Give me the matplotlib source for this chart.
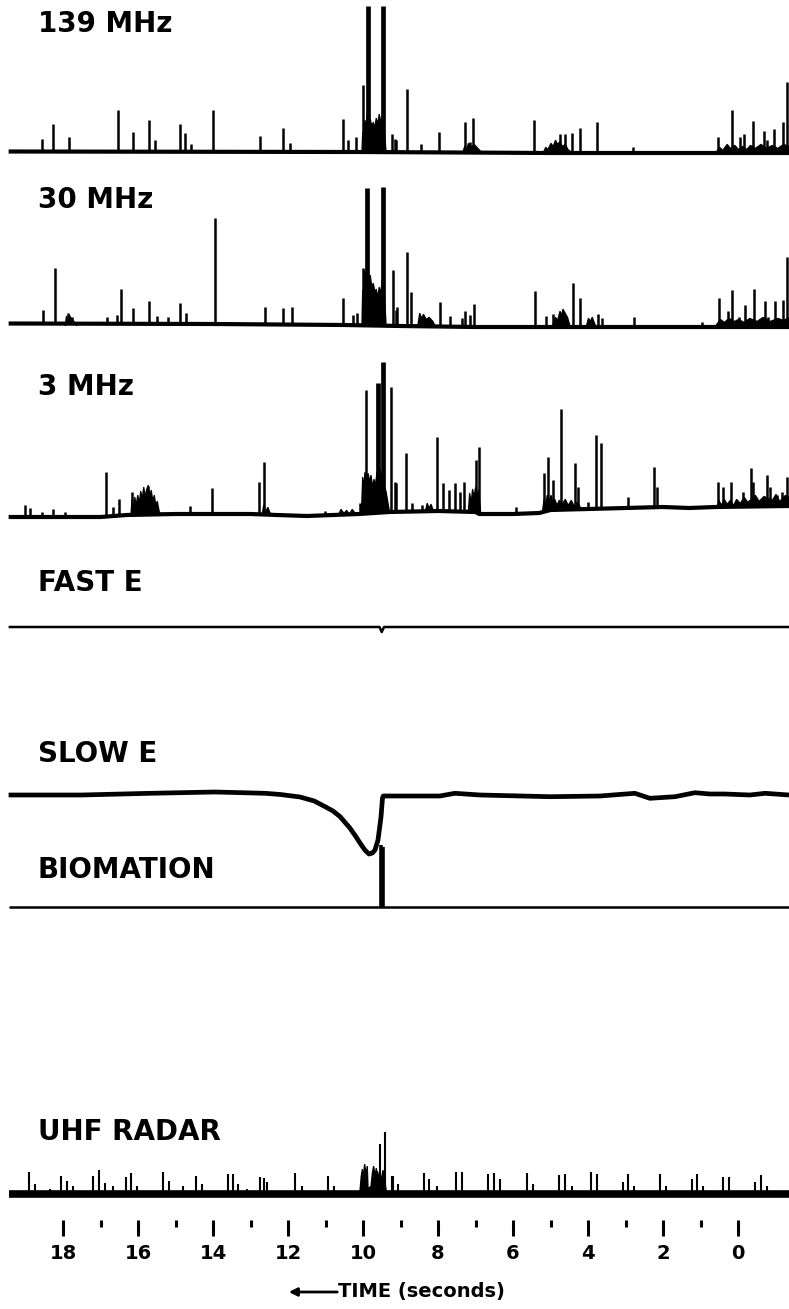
import numpy as np
import matplotlib
matplotlib.use("Agg")
import matplotlib.pyplot as plt

plt.rcParams['font.family'] = ['DejaVu Sans']

W, H = 789, 1309
T_LEFT, T_RIGHT = 19.68, -1.36

########## data (time in s, amplitude in trace units) ##########

# 139 MHz
vhf139_base_t = [19.45, 10.0, 5.0, -1.36]
vhf139_base_v = [0.5, 0, -1, -1]
vhf139_spike_t = [18.56, 18.27, 17.84, 16.53, 16.13, 15.71, 15.55, 14.88, 14.75, 14.59,
                  14.00, 12.75, 12.13, 11.95, 10.53, 10.40, 10.19, 10.00, 9.87, 9.47,
                  9.23, 9.15, 9.12, 8.83, 8.45, 7.97, 7.28, 7.15, 7.07, 5.44,
                  4.75, 4.61, 4.43, 4.21, 3.76, 2.80, 0.53, 0.16, -0.05, -0.16,
                  -0.40, -0.69, -0.77, -0.96, -1.20, -1.31]
vhf139_spike_v = [13, 28, 15, 42, 20, 32, 12, 28, 19, 8,
                  42, 16, 24, 9, 33, 12, 15, 67, 146, 146,
                  18, 13, 12, 63, 8, 20, 30, 10, 34, 32,
                  18, 18, 19, 24, 30, 5, 15, 42, 15, 18,
                  31, 21, 12, 23, 30, 70]
vhf139_bursts = [
    [(10.04, 0), (10.02, 20), (9.99, 10), (9.96, 32), (9.93, 25), (9.90, 38),
     (9.86, 28), (9.82, 33), (9.78, 26), (9.74, 30), (9.70, 24), (9.66, 34),
     (9.62, 28), (9.58, 38), (9.54, 30), (9.50, 36), (9.46, 22), (9.42, 10), (9.40, 0)],
    [(7.35, 0), (7.30, 6), (7.25, 3), (7.20, 9), (7.12, 5), (7.05, 8), (6.95, 4), (6.85, 0)],
    [(5.20, 0), (5.14, 5), (5.08, 3), (5.00, 9), (4.94, 6), (4.88, 12), (4.82, 8),
     (4.76, 11), (4.70, 6), (4.62, 8), (4.55, 3), (4.45, 0)],
    [(0.60, 0), (0.50, 5), (0.42, 2), (0.30, 8), (0.22, 4), (0.10, 7), (0.00, 3),
     (-0.10, 6), (-0.22, 3), (-0.32, 7), (-0.45, 4), (-0.60, 8), (-0.75, 4),
     (-0.90, 7), (-1.05, 4), (-1.20, 8), (-1.36, 6)],
]

# 30 MHz
vhf30_base_t = [19.45, 14.0, 10.5, 9.0, 7.0, 4.0, 1.0, -1.36]
vhf30_base_v = [1.5, 1, 0, -1, -2, -2, -2, -2]
vhf30_spike_t = [18.53, 18.21, 17.87, 17.76, 16.83, 16.56, 16.45, 16.13, 15.71, 15.49,
                 15.20, 14.88, 14.72, 13.95, 12.61, 12.13, 11.89, 10.53, 10.27, 10.16,
                 10.00, 9.89, 9.47, 9.21, 9.12, 9.09, 8.83, 8.72, 7.95, 7.68,
                 7.36, 7.28, 7.15, 7.04, 5.41, 5.12, 4.93, 4.40, 4.21, 3.73,
                 3.63, 2.77, 0.96, 0.51, 0.27, 0.16, -0.03, -0.19, -0.43, -0.72,
                 -0.80, -0.99, -1.20, -1.31]
vhf30_spike_v = [15, 57, 12, 8, 8, 10, 36, 17, 24, 9,
                 8, 22, 12, 107, 18, 17, 18, 27, 10, 12,
                 57, 137, 138, 55, 15, 18, 73, 33, 23, 9,
                 7, 14, 10, 21, 34, 9, 11, 42, 27, 11,
                 7, 8, 3, 27, 14, 35, 8, 20, 36, 24,
                 8, 24, 25, 68]
vhf30_bursts = [
    [(17.95, 0), (17.92, 9), (17.88, 5), (17.84, 10), (17.78, 6), (17.72, 4), (17.65, 0)],
    [(10.04, 0), (10.02, 35), (9.99, 25), (9.96, 55), (9.93, 45), (9.90, 57),
     (9.86, 48), (9.82, 50), (9.78, 38), (9.74, 42), (9.70, 34), (9.66, 36),
     (9.62, 28), (9.58, 38), (9.54, 32), (9.50, 45), (9.46, 35), (9.42, 15), (9.40, 0)],
    [(8.55, 0), (8.50, 12), (8.45, 7), (8.40, 11), (8.33, 6), (8.25, 8), (8.15, 4), (8.10, 0)],
    [(4.95, 0), (4.88, 8), (4.82, 5), (4.76, 14), (4.72, 10), (4.68, 16), (4.62, 12),
     (4.56, 8), (4.50, 0)],
    [(4.05, 0), (4.00, 7), (3.95, 4), (3.90, 8), (3.82, 0)],
    [(0.60, 0), (0.48, 6), (0.38, 3), (0.25, 7), (0.10, 4), (0.00, 6), (-0.15, 3),
     (-0.30, 7), (-0.50, 4), (-0.65, 8), (-0.85, 4), (-1.05, 7), (-1.20, 5), (-1.36, 8)],
]

# 3 MHz
hf3_base_t = [19.45, 17.0, 16.3, 15.0, 14.0, 13.0, 12.3, 11.5, 10.8, 10.1, 9.3, 8.0,
              7.0, 6.9, 6.0, 5.3, 5.0, 4.0, 3.0, 2.0, 1.3, 0.6, -1.36]
hf3_base_v = [0, 0, 2, 3, 3, 3, 2, 1, 2, 3, 5, 6,
              5, 3, 3, 4, 7, 8, 9, 10, 9, 10, 11]
hf3_spike_t = [19.01, 18.88, 18.56, 18.27, 17.95, 16.85, 16.67, 16.51, 16.16, 15.73,
               14.61, 14.03, 12.77, 12.64, 11.01, 10.08, 9.92, 9.60, 9.47, 9.25,
               9.15, 9.12, 8.85, 8.69, 8.43, 8.03, 7.87, 7.71, 7.55, 7.41,
               7.31, 6.99, 6.91, 5.92, 5.17, 5.07, 4.93, 4.72, 4.35, 4.27,
               4.00, 3.79, 3.65, 2.93, 2.24, 2.16, 0.53, 0.40, 0.19, -0.13,
               -0.35, -0.40, -0.77, -0.85, -1.04, -1.17, -1.31]
hf3_spike_v = [12, 9, 5, 8, 5, 45, 10, 18, 25, 31,
               11, 29, 35, 55, 6, 14, 127, 134, 155, 130,
               35, 34, 64, 14, 12, 80, 34, 27, 34, 25,
               35, 57, 70, 10, 44, 60, 37, 108, 54, 30,
               15, 82, 74, 20, 50, 30, 35, 30, 35, 25,
               49, 35, 42, 30, 22, 25, 40]
hf3_bursts = [
    [(16.20, 3), (16.17, 18), (16.14, 8), (16.10, 20), (16.06, 12), (16.02, 22),
     (15.98, 14), (15.94, 26), (15.90, 18), (15.86, 30), (15.82, 20), (15.78, 28),
     (15.74, 32), (15.70, 22), (15.66, 27), (15.62, 16), (15.58, 22), (15.54, 12),
     (15.50, 16), (15.45, 6), (15.40, 3)],
    [(12.70, 3), (12.66, 12), (12.60, 6), (12.55, 10), (12.50, 5), (12.45, 3)],
    [(10.67, 2), (10.60, 8), (10.52, 4), (10.45, 7), (10.38, 3), (10.30, 8), (10.20, 3)],
    [(10.05, 8), (10.02, 40), (9.99, 28), (9.96, 45), (9.92, 32), (9.88, 44),
     (9.84, 36), (9.80, 42), (9.76, 30), (9.72, 38), (9.68, 32), (9.64, 45),
     (9.60, 36), (9.56, 48), (9.52, 40), (9.48, 46), (9.44, 30), (9.40, 26), (9.32, 8)],
    [(8.35, 6), (8.30, 14), (8.25, 9), (8.20, 13), (8.15, 8), (8.08, 6)],
    [(7.20, 6), (7.17, 24), (7.13, 14), (7.09, 28), (7.05, 20), (7.01, 30),
     (6.97, 22), (6.93, 28), (6.88, 6)],
    [(5.22, 8), (5.18, 18), (5.14, 12), (5.10, 22), (5.05, 15), (5.00, 22),
     (4.95, 14), (4.90, 18), (4.84, 12), (4.78, 17), (4.70, 13), (4.62, 18),
     (4.54, 12), (4.46, 17), (4.38, 11), (4.30, 15), (4.20, 9)],
    [(0.58, 9), (0.52, 17), (0.46, 12), (0.38, 18), (0.30, 13), (0.22, 17), (0.13, 12),
     (0.05, 18), (-0.05, 14), (-0.15, 20), (-0.25, 15), (-0.45, 22), (-0.55, 16),
     (-0.68, 21), (-0.90, 17), (-1.00, 23), (-1.10, 16), (-1.25, 22), (-1.36, 20)],
]

# FAST E
fast_t = [19.45, 9.56, 9.50, 9.44, -1.36]
fast_v = [0, 0, -5, 0, 0]

# SLOW E
slow_t = [19.45, 17.5, 15.68, 13.95, 12.61, 12.2, 11.68, 11.3, 11.01, 10.8, 10.61,
          10.35, 10.2, 10.08, 9.95, 9.84, 9.75, 9.68, 9.60, 9.52, 9.48, 9.46,
          7.95, 7.55, 6.88, 5.01, 3.68, 2.75, 2.35, 1.68, 1.15, 0.75, 0.35,
          -0.32, -0.72, -1.36]
slow_v = [0, 0, 1.7, 3, 1.7, 0.5, -2, -6, -11.7, -16, -21.7,
          -33, -41, -48, -55, -59, -58, -55, -45, -22, -3, -1,
          -1, 1.7, 0, -1.7, -1, 1.7, -3.3, -1.7, 2.3, 1, 1,
          0, 1.7, 0]

# BIOMATION
bio_base_t = [19.45, -1.36]
bio_base_v = [0, 0]
bio_spike_t = [9.51, 9.47]
bio_spike_v = [62, 60]

# UHF RADAR
uhf_base_t = [19.45, -1.36]
uhf_base_v = [0, 0]
uhf_spike_t = [18.91, 18.75, 18.35, 18.05, 17.89, 17.73, 17.20, 17.04, 16.88, 16.67,
               16.32, 16.19, 16.03, 15.33, 15.17, 14.80, 14.45, 14.29, 13.60, 13.47,
               13.33, 13.09, 12.75, 12.64, 12.56, 11.81, 11.63, 10.93, 10.77, 9.63,
               9.55, 9.41, 9.23, 9.20, 9.07, 8.37, 8.24, 8.03, 7.52, 7.36,
               6.67, 6.51, 6.35, 5.63, 5.47, 4.77, 4.61, 4.43, 3.92, 3.76,
               3.07, 2.93, 2.77, 2.08, 1.92, 1.23, 1.09, 0.93, 0.40, 0.24,
               -0.45, -0.61, -0.77]
uhf_spike_v = [22, 10, 5, 18, 13, 8, 18, 24, 11, 8,
               17, 21, 8, 22, 13, 8, 18, 10, 20, 20,
               10, 5, 17, 16, 12, 21, 8, 18, 8, 23,
               50, 62, 18, 18, 10, 21, 15, 8, 22, 22,
               20, 21, 15, 21, 10, 19, 20, 8, 22, 20,
               12, 20, 8, 20, 8, 15, 20, 8, 17, 17,
               12, 19, 8]
uhf_bursts = [
    [(10.10, 0), (10.06, 18), (10.03, 25), (10.00, 16), (9.97, 30), (9.93, 20),
     (9.90, 28), (9.88, 6), (9.80, 8), (9.76, 22), (9.73, 28), (9.69, 18),
     (9.66, 26), (9.62, 16), (9.58, 22), (9.53, 14), (9.48, 24), (9.42, 10), (9.38, 0)],
]

tick_major = list(range(0, 19, 2))
tick_minor = list(range(1, 18, 2))

########## drawing ##########

fig = plt.figure(figsize=(W / 100, H / 100), dpi=100)


def panel(base, up, down):
    # axes whose zero line sits at pixel row `base`
    ax = fig.add_axes([0, 1 - (base + down) / H, 1, (up + down) / H])
    ax.set_xlim(T_LEFT, T_RIGHT)
    ax.set_ylim(-down, up)
    ax.axis('off')
    return ax


def trace(ax, base_t, base_v, spike_t=(), spike_v=(), bursts=(), lw_base=3.0, lw_spike=1.8):
    bt = np.array(base_t, float)[::-1]
    bv = np.array(base_v, float)[::-1]
    for b in bursts:
        t, v = np.array(b, float).T
        ax.fill_between(t, np.interp(t, bt, bv), v, color='k', lw=1.0)
    if len(spike_t):
        st = np.array(spike_t, float)
        sb = np.interp(st, bt, bv)
        top = np.array(spike_v, float)
        lws = np.where(top - sb > 125, 3.4, lw_spike)
        ax.vlines(st, sb, top, colors='k', lw=lws)
    ax.plot(base_t, base_v, color='k', lw=lw_base, solid_capstyle='butt')


ax = panel(152, 152, 12)
trace(ax, vhf139_base_t, vhf139_base_v, vhf139_spike_t, vhf139_spike_v, vhf139_bursts)

ax = panel(325, 150, 12)
trace(ax, vhf30_base_t, vhf30_base_v, vhf30_spike_t, vhf30_spike_v, vhf30_bursts)

ax = panel(517, 165, 12)
trace(ax, hf3_base_t, hf3_base_v, hf3_spike_t, hf3_spike_v, hf3_bursts)

ax = panel(627, 20, 20)
trace(ax, fast_t, fast_v, lw_base=1.8)

ax = panel(795, 20, 70)
trace(ax, slow_t, slow_v, lw_base=3.4)

ax = panel(907, 70, 10)
trace(ax, bio_base_t, bio_base_v, bio_spike_t, bio_spike_v, lw_base=1.8, lw_spike=2.6)

ax = panel(1194, 70, 10)
trace(ax, uhf_base_t, uhf_base_v, uhf_spike_t, uhf_spike_v, uhf_bursts, lw_base=5.5, lw_spike=1.5)

# channel names
names = ["139 MHz", "30 MHz", "3 MHz", "FAST E", "SLOW E", "BIOMATION", "UHF RADAR"]
name_y = [24, 200, 387, 583, 754, 870, 1132]
for name, y in zip(names, name_y):
    fig.text(38 / W, 1 - y / H, name, fontsize=20, fontweight='bold', va='center', ha='left')

# time scale
axt = fig.add_axes([0, 1 - 1220 / H, 1, 0.0001])
axt.set_xlim(T_LEFT, T_RIGHT)
axt.set_yticks([])
for s in axt.spines.values():
    s.set_visible(False)
axt.set_xticks(tick_major)
axt.set_xticklabels([str(v) for v in tick_major], fontsize=14, fontweight='bold')
axt.set_xticks(tick_minor, minor=True)
axt.tick_params(axis='x', which='major', length=11.5, width=2.2, pad=6)
axt.tick_params(axis='x', which='minor', length=5, width=2.2)
axt.patch.set_visible(False)

fig.text(338 / W, 1 - 1292 / H, "TIME (seconds)", fontsize=14, fontweight='bold',
         va='center', ha='left')
fig.add_artist(matplotlib.patches.FancyArrowPatch(
    (340 / W, 1 - 1292 / H), (286 / W, 1 - 1292 / H), transform=fig.transFigure,
    arrowstyle='-|>', mutation_scale=12, lw=2, color='k'))

fig.savefig("out.png", dpi=100)
